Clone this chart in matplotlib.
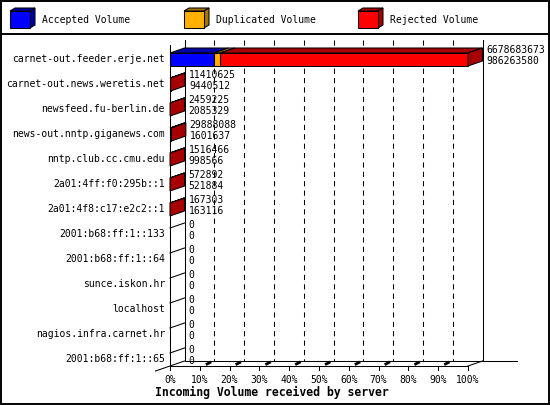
import numpy as np
import matplotlib.pyplot as plt
from matplotlib.patches import Polygon, Rectangle

servers = ['carnet-out.feeder.erje.net', 'carnet-out.news.weretis.net',
           'newsfeed.fu-berlin.de', 'news-out.nntp.giganews.com',
           'nntp.club.cc.cmu.edu', '2a01:4ff:f0:295b::1', '2a01:4f8:c17:e2c2::1',
           '2001:b68:ff:1::133', '2001:b68:ff:1::64', 'sunce.iskon.hr',
           'localhost', 'nagios.infra.carnet.hr', '2001:b68:ff:1::65']
accepted = [986263580, 9440512, 2085329, 1601637, 998566, 521884, 163116,
            0, 0, 0, 0, 0, 0]
duplicated = [140000000, 0, 0, 0, 0, 0, 0, 0, 0, 0, 0, 0, 0]
rejected = [5552420093, 1970113, 373896, 28286451, 517900, 51008, 4187,
            0, 0, 0, 0, 0, 0]
series_names = ['Accepted Volume', 'Duplicated Volume', 'Rejected Volume']
pct_ticks = [0, 10, 20, 30, 40, 50, 60, 70, 80, 90, 100]

front_cols = ['#0000ff', '#ffb000', '#ff0000']
dark_cols = ['#0000a8', '#a87400', '#a80000']
mono = 'DejaVu Sans Mono'
lw = 0.75

W, H = 550, 405
fig = plt.figure(figsize=(W / 100, H / 100), dpi=100)

# frame and legend, pixel units
bg = fig.add_axes([0, 0, 1, 1])
bg.set_xlim(0, W)
bg.set_ylim(H, 0)
bg.axis('off')
bg.add_patch(Rectangle((0.7, 0.7), W - 1.6, H - 1.6, fill=False, lw=1.4, ec='black'))
bg.plot([0, W], [34, 34], color='black', lw=1.4)
for k in range(3):
    x0 = 10 + 174 * k
    bg.add_patch(Polygon([(x0, 11), (x0 + 20, 11), (x0 + 25, 8), (x0 + 5, 8)],
                         closed=True, fc=dark_cols[k], ec='black', lw=lw))
    bg.add_patch(Polygon([(x0 + 20, 11), (x0 + 25, 8), (x0 + 25, 25), (x0 + 20, 28)],
                         closed=True, fc=dark_cols[k], ec='black', lw=lw))
    bg.add_patch(Rectangle((x0, 11), 20, 17, fc=front_cols[k], ec='black', lw=lw))
    bg.text(x0 + 32, 20, series_names[k], family=mono, fontsize=7, va='center', ha='left')
bg.text(155, 392, 'Incoming Volume received by server', family=mono, fontsize=8.3,
        fontweight='bold', va='center', ha='left')

# plot area: x in percent, y in rows
ax = fig.add_axes([170 / W, 1 - 372 / H, 298 / W, 325 / H])
ax.set_xlim(0, 100)
ax.set_ylim(12.5, -0.5)
ax.axis('off')
px = 2.98          # pixels per percent
dx = 14.5 / px     # depth offset, percent
dy = 0.2           # depth offset, rows
h = 0.26
top_back = -0.78
floor_front = 12.26
floor_back = floor_front - dy

kw = dict(color='black', lw=lw, clip_on=False)
ax.plot([0, 0], [top_back + dy, floor_front], **kw)
ax.plot([dx, dx], [top_back, floor_back], **kw)
ax.plot([100 + dx, 100 + dx], [top_back, floor_back], **kw)
ax.plot([dx, 116.4], [floor_back, floor_back], **kw)
ax.plot([0, 100], [floor_front, floor_front], **kw)
ax.plot([100, 100 + dx], [floor_front, floor_back], **kw)
ax.plot([-dx, dx], [floor_front + dy, floor_back], **kw)
for t in pct_ticks[1:-1]:
    ax.plot([t + dx, t + dx], [top_back, floor_back], color='black', lw=lw,
            ls=(0, (5, 4)), clip_on=False, zorder=1)
for t in pct_ticks:
    ax.plot([t, t], [floor_front, floor_front + 0.14], **kw)
    if 0 < t < 100:
        ax.plot([t + 0.5 * dx, t + 0.7 * dx], [floor_front - 0.08, floor_front - 0.14],
                color='black', lw=2, clip_on=False)
    ax.text(t, 12.82, '%d%%' % t, family=mono, fontsize=7, ha='center', va='center')

data = np.array([accepted, duplicated, rejected], dtype=float)
totals = data.sum(axis=0)
scale = 100.0 / totals.max()

for i in range(len(servers)):
    ax.text(-1.7, i - 0.02, servers[i], family=mono, fontsize=7, ha='right', va='center')
    left = 0.0
    last = None
    for s in range(3):
        w = data[s, i] * scale
        if w <= 0:
            continue
        ax.barh(i, w, left=left, height=2 * h, color=front_cols[s], edgecolor='black',
                lw=lw, clip_on=False, zorder=3)
        ax.add_patch(Polygon([(left, i - h), (left + w, i - h), (left + w + dx, i - h - dy),
                              (left + dx, i - h - dy)], closed=True, fc=dark_cols[s],
                             ec='black', lw=lw, clip_on=False, zorder=3))
        left += w
        last = s
    if last is None:
        ax.plot([0, dx], [i - h, i - h - dy], color='black', lw=lw, clip_on=False, zorder=3)
    else:
        ax.add_patch(Polygon([(left, i - h), (left + dx, i - h - dy), (left + dx, i + h - dy),
                              (left, i + h)], closed=True, fc=dark_cols[last],
                             ec='black', lw=lw, clip_on=False, zorder=3))
    lx = left + dx + 1.3
    ax.text(lx, i - 0.38, '%d' % totals[i], family=mono, fontsize=7, ha='left',
            va='center', zorder=5)
    ax.text(lx, i + 0.06, '%d' % accepted[i], family=mono, fontsize=7, ha='left',
            va='center', zorder=5)

fig.savefig('out.png', dpi=100)
